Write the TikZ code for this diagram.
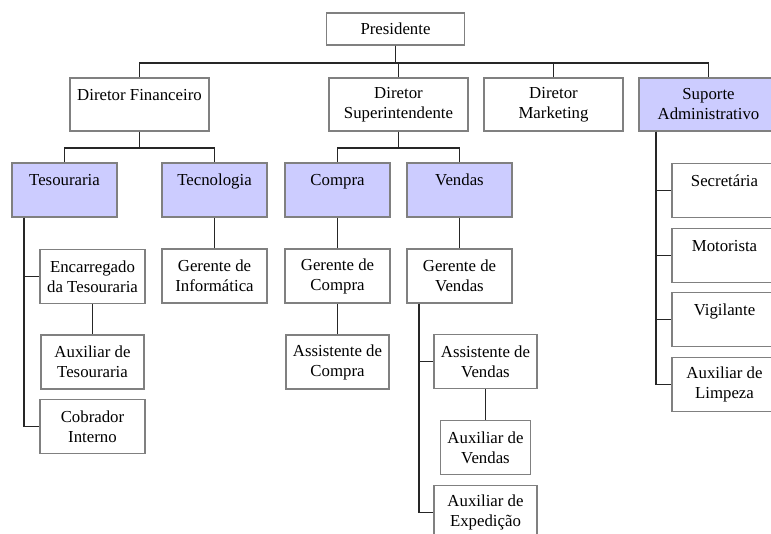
\documentclass[tikz,border=0pt]{standalone}
\usepackage{fontspec}
\setmainfont{Liberation Serif}
\definecolor{unitblue}{RGB}{204,204,255}

\begin{document}
\begin{tikzpicture}[
    x=1pt, y=-1pt,
    every node/.style={rectangle, draw=black!50, line width=1.5pt, fill=white, inner sep=0pt,
                       minimum width=105pt, minimum height=54pt, align=center,
                       font=\fontsize{16.8}{20}\selectfont},
    every edge/.style={draw=black!85, line width=1.9pt},
    unit/.style={fill=unitblue},
    wide/.style={minimum width=139pt, minimum height=53pt},
    hang/.style={to path={(\tikztotarget.south) -- ++(0,#1) -| (\tikztostart.north)}},
    hang/.default=16.5,
    rail/.style={to path={([xshift=#1]\tikztotarget.south west) |- (\tikztostart.west)}},
    rail/.default=13,
]
  \useasboundingbox (0,0) rectangle (771,534);

  \node [minimum width=138pt, minimum height=32pt]
                   (pres) at (395.5,29  )  {Presidente};

  \node [wide]       (fin)  at (139.5,104.5)  {Diretor Financeiro\\~}   edge [hang=17.5] (pres);
  \node [wide]       (sup)  at (398.5,104.5)  {Diretor\\Superintendente} edge [hang=17.5] (pres);
  \node [wide]       (mkt)  at (553.5,104.5)  {Diretor\\Marketing}      edge [hang=17.5] (pres);
  \node [wide, unit] (adm)  at (708.5,104.5)  {Suporte\\Administrativo} edge [hang=17.5] (pres);

  \node [unit]       (tes)  at (64.5, 190  )  {Tesouraria\\~}           edge [hang]     (fin);
  \node [unit]       (tec)  at (214.5,190  )  {Tecnologia\\~}           edge [hang]     (fin);
  \node [unit]       (cmp)  at (337.5,190  )  {Compra\\~}               edge [hang]     (sup);
  \node [unit]       (ven)  at (459.5,190  )  {Vendas\\~}               edge [hang]     (sup);

  % tesouraria
  \node []           (enc)  at (92.5, 276.5)  {Encarregado\\da Tesouraria} edge [rail=12.5] (tes);
  \node [minimum width=103pt]
                     (auxt) at (92.5, 362  )  {Auxiliar de\\Tesouraria}  edge            (enc);
  \node []           (cob)  at (92.5, 426.5)  {Cobrador\\Interno}        edge [rail=12.5] (tes);

  % tecnologia, compra
  \node []           (ginf) at (214.5,276  )  {Gerente de\\Informática}  edge            (tec);
  \node []           (gcmp) at (337.5,276  )  {Gerente de\\Compra}       edge            (cmp);
  \node [minimum width=103pt]
                     (acmp) at (337.5,362  )  {Assistente de\\Compra}    edge            (gcmp);

  % vendas
  \node []           (gven) at (459.5,276  )  {Gerente de\\Vendas}       edge            (ven);
  \node [minimum width=103pt]
                     (aven) at (485.5,361.5)  {Assistente de\\Vendas}    edge [rail]     (gven);
  \node [minimum width=90pt]
                     (auxv) at (485.5,447.5)  {Auxiliar de\\Vendas}      edge            (aven);
  \node [minimum width=103pt]
                     (auxe) at (485.5,512.5)  {Auxiliar de\\Expedição}   edge [rail]     (gven);

  % suporte administrativo
  \node []           (sec)  at (724.5,190.5)  {Secretária\\~}           edge [rail=17.5] (adm);
  \node []           (mot)  at (724.5,255.5)  {Motorista\\~}            edge [rail=17.5] (adm);
  \node []           (vig)  at (724.5,319.5)  {Vigilante\\~}            edge [rail=17.5] (adm);
  \node []           (limp) at (724.5,384.5)  {Auxiliar de\\Limpeza}    edge [rail=17.5] (adm);
\end{tikzpicture}
\end{document}
